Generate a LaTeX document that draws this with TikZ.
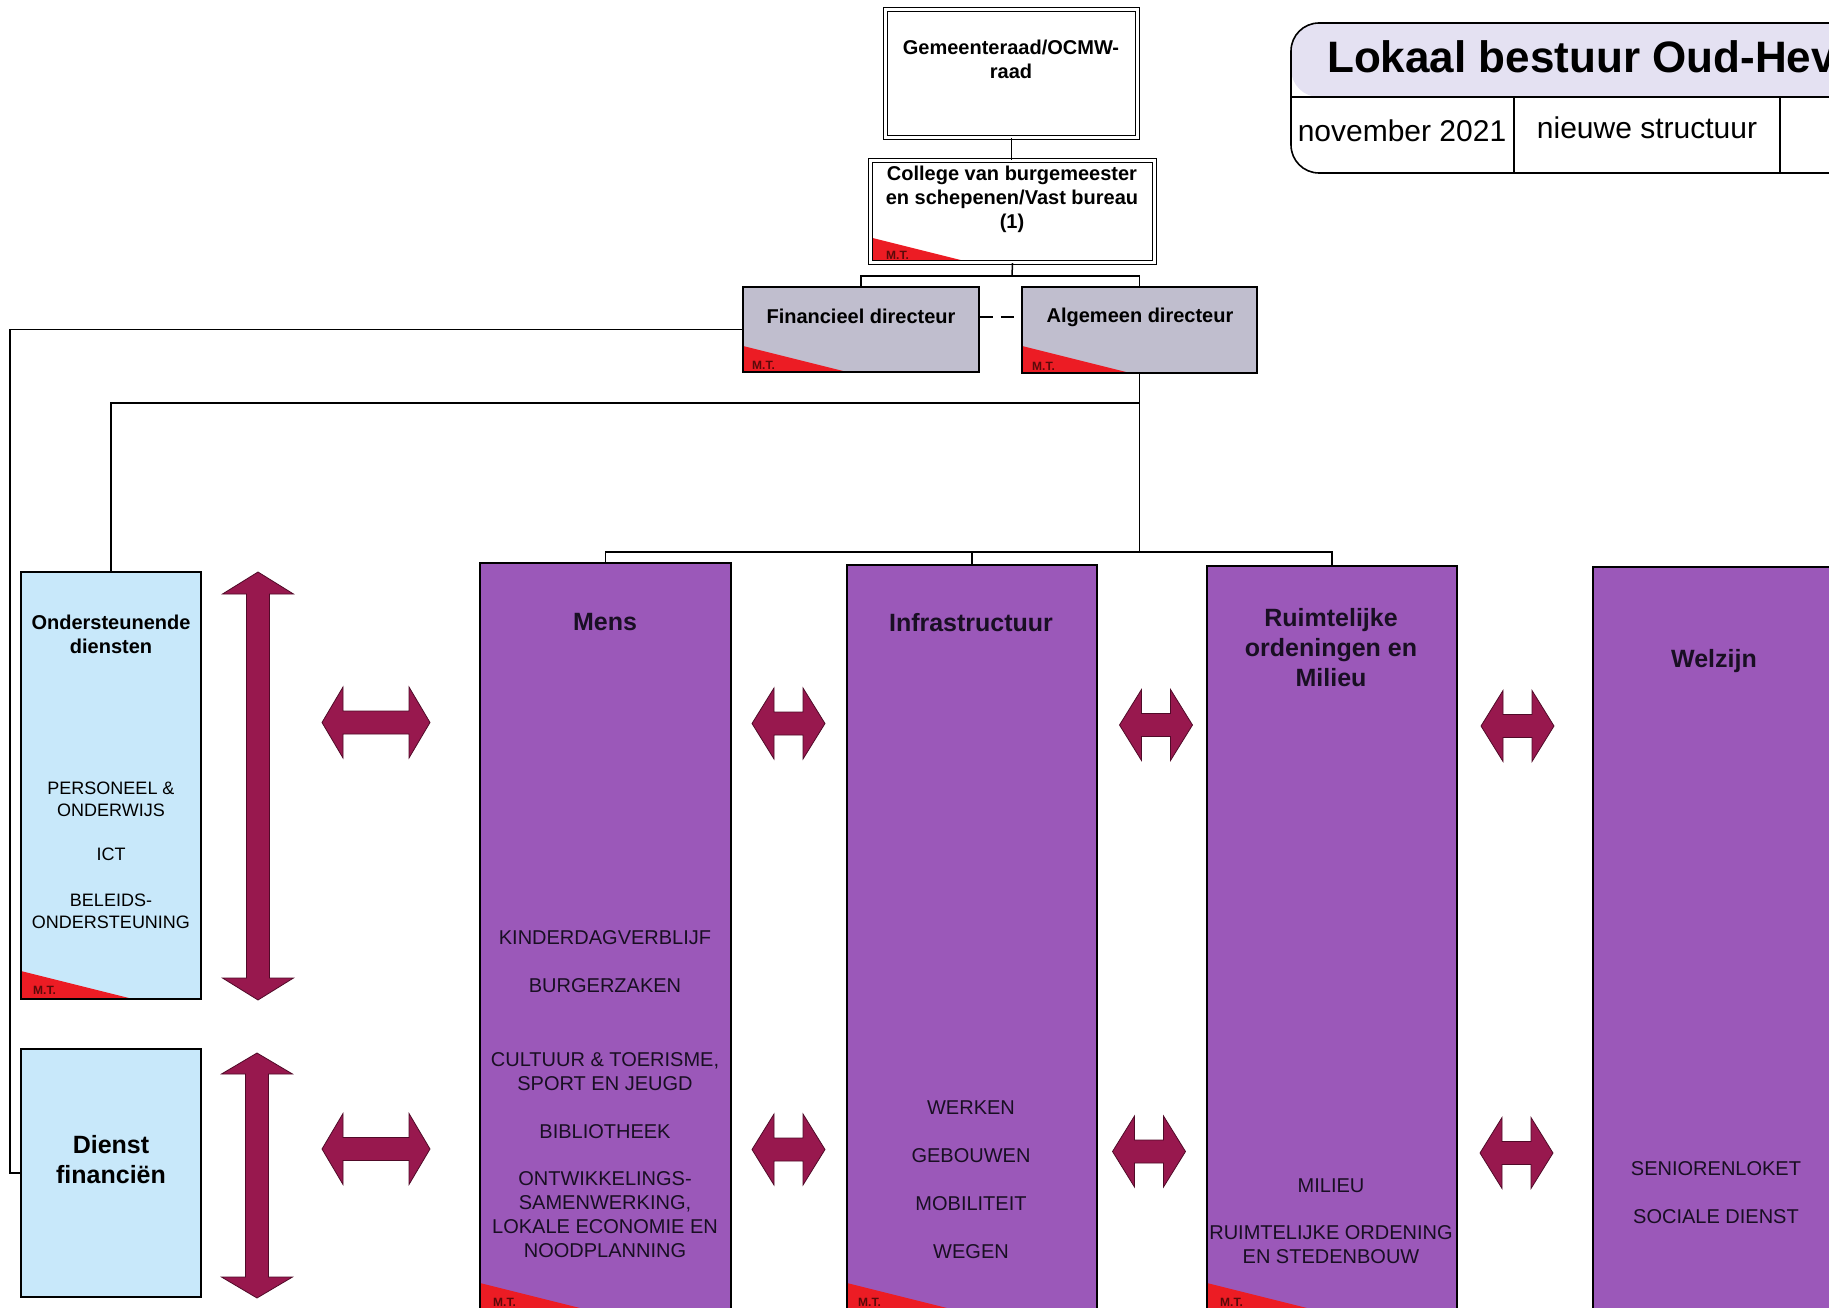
\documentclass[tikz,border=0pt]{standalone}
\usepackage{fontspec}
\setmainfont{Liberation Sans}
\usetikzlibrary{calc}
\definecolor{purp}{RGB}{155,88,185}
\definecolor{lblue}{RGB}{200,232,250}
\definecolor{greybox}{RGB}{192,190,206}
\definecolor{arrowc}{RGB}{152,24,78}
\definecolor{arrowline}{RGB}{80,10,40}
\definecolor{mtred}{RGB}{236,28,36}
\definecolor{mtdark}{RGB}{90,10,10}
\definecolor{titlefill}{RGB}{228,225,242}
\definecolor{txt}{RGB}{25,15,35}
\newcommand\harr[4]{%
 \filldraw[arrowsty] ({#1-#3},#2) -- ({#1-#3+#4},{#2-35.5}) -- ({#1-#3+#4},{#2-11.5}) -- ({#1+#3-#4},{#2-11.5}) -- ({#1+#3-#4},{#2-35.5}) -- ({#1+#3},#2) -- ({#1+#3-#4},{#2+35.5}) -- ({#1+#3-#4},{#2+11.5}) -- ({#1-#3+#4},{#2+11.5}) -- ({#1-#3+#4},{#2+35.5}) -- cycle;}
\newcommand\varr[4]{%
 \filldraw[arrowsty] (#1,{#2-#3}) -- ({#1-35.5},{#2-#3+#4}) -- ({#1-11.5},{#2-#3+#4}) -- ({#1-11.5},{#2+#3-#4}) -- ({#1-35.5},{#2+#3-#4}) -- (#1,{#2+#3}) -- ({#1+35.5},{#2+#3-#4}) -- ({#1+11.5},{#2+#3-#4}) -- ({#1+11.5},{#2-#3+#4}) -- ({#1+35.5},{#2-#3+#4}) -- cycle;}
\begin{document}
\begin{tikzpicture}[x=1pt,y=-1pt,
  box/.style={draw=black, line width=1.6pt, inner sep=0pt},
  dblbox/.style={draw=black, double=white, double distance=2.6pt, line width=1.2pt, inner sep=0pt, fill=white},
  conn/.style={draw=black, line width=1.5pt},
  arrowsty/.style={fill=arrowc, draw=arrowline, line width=0.8pt, line join=miter},
  mtcorner/.style={path picture={\fill[mtred] (path picture bounding box.south west) -- ++(0,-#1) -- ++({4*#1},#1) -- cycle;}},
  mtlab/.style={anchor=west, inner sep=0pt, text=mtdark, font=\fontsize{12}{12}\selectfont\bfseries},
  hd/.style={inner sep=0pt, align=center, text=black, font=\fontsize{20}{24}\selectfont\bfseries},
  big/.style={inner sep=0pt, align=center, text=black, font=\fontsize{25}{30}\selectfont\bfseries},
  oitem/.style={inner sep=0pt, align=center, text=black, font=\fontsize{18}{22}\selectfont},
  citem/.style={inner sep=0pt, align=center, text=txt, font=\fontsize{20}{24}\selectfont},
  colhead/.style={inner sep=0pt, align=center, text=txt, font=\fontsize{25}{30}\selectfont\bfseries}
]
\useasboundingbox (0,0) rectangle (1829,1308);
\clip (0,0) rectangle (1829,1308);
\fill[white] (0,0) rectangle (1829,1308);

% ---- title block ----
\node[box, rounded corners=28pt, minimum width=579pt, minimum height=150pt,
  path picture={\fill[titlefill] (path picture bounding box.north west) rectangle ++(600,74);}] (tbox) at (1580.5,98) {};
\coordinate (tdiv) at (0,97);
\coordinate (v1) at (1514,0);
\coordinate (v2) at (1780,0);
\draw[conn] (tbox.west |- tdiv) -- (tbox.east |- tdiv);
\draw[conn] (v1 |- tdiv) -- (v1 |- tbox.south);
\draw[conn] (v2 |- tdiv) -- (v2 |- tbox.south);
\node[anchor=base west, inner sep=0pt, font=\fontsize{44}{44}\selectfont\bfseries] (ttitle) at (1327,73) {Lokaal bestuur Oud-Heverlee};
\node[anchor=base, inner sep=0pt, font=\fontsize{30}{30}\selectfont] (tdate) at (1402,142) {november 2021};
\node[anchor=base, inner sep=0pt, font=\fontsize{30}{30}\selectfont] (tstruct) at (1647,139) {nieuwe structuur};

% ---- top boxes ----
\node[dblbox, minimum width=252pt, minimum height=128pt] (g) at (1011.5,73.5) {};
\node[hd] (gt) at (1011,59) {Gemeenteraad/OCMW-\\raad};
\node[dblbox, minimum width=284pt, minimum height=102pt, mtcorner=25] (c) at (1012.5,211.5) {};
\node[hd] (ct) at (1012,199.5) {College van burgemeester\\en schepenen/Vast bureau\\(1)};
\node[mtlab] (cmt) at (886,255) {M.T.};

\node[box, fill=greybox, minimum width=236pt, minimum height=85pt, mtcorner=26] (fin) at (861,329.5) {};
\node[hd] (fint) at (861,316) {Financieel directeur};
\node[mtlab] (finmt) at (752,365) {M.T.};
\node[box, fill=greybox, minimum width=235pt, minimum height=86pt, mtcorner=27] (alg) at (1139.5,330) {};
\node[hd] (algt) at (1140,317) {Algemeen directeur};
\node[mtlab] (algmt) at (1032,366) {M.T.};

% ---- left column ----
\node[box, fill=lblue, minimum width=180pt, minimum height=427pt, mtcorner=28] (ond) at (111,785.5) {};
\node[hd] (ondt) at (111,634) {Ondersteunende\\diensten};
\node[oitem] (ond1) at (111,799.5) {PERSONEEL \&\\ONDERWIJS};
\node[oitem] (ond2) at (111,854) {ICT};
\node[oitem] (ond3) at (111,911) {BELEIDS-\\ONDERSTEUNING};
\node[mtlab] (ondmt) at (33,990) {M.T.};

\node[box, fill=lblue, minimum width=180pt, minimum height=248pt] (dfin) at (111,1173) {};
\node[big] (dfint) at (111,1160) {Dienst\\financiën};

% ---- purple columns ----
\node[box, fill=purp, minimum width=251pt, minimum height=770pt, mtcorner=50] (mens) at (605.5,948) {};
\node[colhead] (menst) at (605,622) {Mens};
\node[citem] (m1) at (605,938) {KINDERDAGVERBLIJF};
\node[citem] (m2) at (605,986) {BURGERZAKEN};
\node[citem] (m3) at (605,1071.5) {CULTUUR \& TOERISME,\\SPORT EN JEUGD};
\node[citem] (m4) at (605,1132) {BIBLIOTHEEK};
\node[citem] (m5) at (605,1214.5) {ONTWIKKELINGS-\\SAMENWERKING,\\LOKALE ECONOMIE EN\\NOODPLANNING};
\node[mtlab] (mensmt) at (493,1302) {M.T.};

\node[box, fill=purp, minimum width=250pt, minimum height=768pt, mtcorner=50] (infra) at (972,949) {};
\node[colhead] (infrat) at (971,623) {Infrastructuur};
\node[citem] (i1) at (971,1108) {WERKEN};
\node[citem] (i2) at (971,1156) {GEBOUWEN};
\node[citem] (i3) at (971,1204) {MOBILITEIT};
\node[citem] (i4) at (971,1252) {WEGEN};
\node[mtlab] (inframt) at (858,1302) {M.T.};

\node[box, fill=purp, minimum width=250pt, minimum height=767pt, mtcorner=50] (ruim) at (1332,949.5) {};
\node[colhead] (ruimt) at (1331,648) {Ruimtelijke\\ordeningen en\\Milieu};
\node[citem] (r1) at (1331,1186) {MILIEU};
\node[citem] (r2) at (1331,1245) {RUIMTELIJKE ORDENING\\EN STEDENBOUW};
\node[mtlab] (ruimmt) at (1220,1302) {M.T.};

\node[box, fill=purp, minimum width=250pt, minimum height=766pt] (welz) at (1718,950) {};
\node[colhead] (welzt) at (1714,661) {Welzijn};
\node[citem] (w1) at (1716,1169) {SENIORENLOKET};
\node[citem] (w2) at (1716,1217) {SOCIALE DIENST};

% ---- connectors ----
\coordinate (j1) at (1012,276);
\draw[conn] (g.south) -- (g.south |- c.north);
\draw[conn] (c.south) -- (j1);
\draw[conn] (fin.north) |- (j1) -| (alg.north);
\coordinate (dy) at (0,317);
\draw[conn, dash pattern=on 13pt off 8pt] (fin.east |- dy) -- (alg.west |- dy);
\coordinate (rail) at (10,0);
\draw[conn] (fin.west) -| (rail |- dfin.west) -- (dfin.west);
\coordinate (br) at (0,403);
\coordinate (bar) at (0,552);
\draw[conn] (alg.south) -- (alg.south |- bar);
\draw[conn] (alg.south |- br) -| (ond.north);
\draw[conn] (mens.north) -- (mens.north |- bar) -- (ruim.north |- bar) -- (ruim.north);
\draw[conn] (infra.north) -- (infra.north |- bar);

% ---- arrows ----
\varr{258}{786}{214}{22}
\varr{257}{1175.5}{122.5}{21}
\harr{376}{722.5}{54}{21}
\harr{376}{1149}{54}{21}
\harr{788.5}{723.5}{36.5}{22}
\harr{788.5}{1149.5}{36.5}{22}
\harr{1156}{725}{36.5}{22}
\harr{1149}{1151.5}{36.5}{22}
\harr{1517.5}{726}{36.5}{22}
\harr{1516.5}{1153}{36.5}{22}
\end{tikzpicture}
\end{document}
